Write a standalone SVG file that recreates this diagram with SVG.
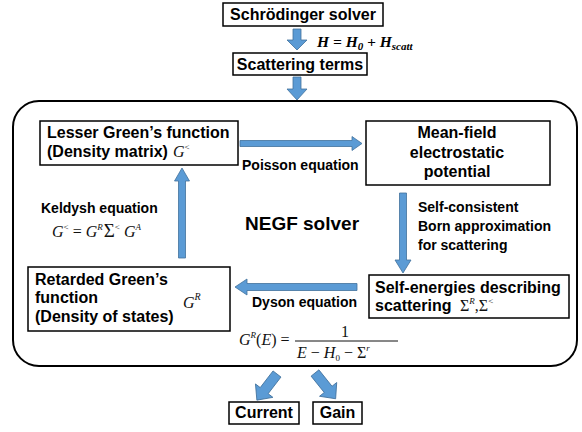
<svg xmlns="http://www.w3.org/2000/svg" width="582" height="432" viewBox="0 0 582 432">
<style>
.box{fill:#fff;stroke:#000;stroke-width:1.5}
.t{font-family:"Liberation Sans",Arial,sans-serif;font-weight:bold;font-size:16px;fill:#000}
.s{font-family:"Liberation Sans",Arial,sans-serif;font-weight:bold;font-size:14px;fill:#000}
.m{font-family:"Liberation Serif","Times New Roman",serif;font-style:italic;font-size:16px;fill:#111}
.up{font-style:normal}
.arr{fill:#5B9BD5;stroke:#41719C;stroke-width:0.8}
</style>
<defs>
<path id="diag" d="M0,-5 L21,-5 L21,-11 L33,0 L21,11 L21,5 L0,5 Z"/>
</defs>

<g id="outer">
<rect x="13" y="101" width="564" height="265" rx="26" ry="26" fill="none" stroke="#000" stroke-width="2"/>
</g>

<g id="schrodinger">
<rect class="box" x="223" y="3" width="160" height="23"/>
<text class="t" x="303" y="20" text-anchor="middle">Schrödinger solver</text>
</g>
<g id="hamiltonian">
<text x="317" y="47" font-family="'Liberation Serif','Times New Roman',serif" font-style="italic" font-weight="bold" font-size="15.5">H = H<tspan font-size="11" dy="3">0</tspan><tspan dy="-3"> + H</tspan><tspan font-size="11" dy="3">scatt</tspan></text>
</g>
<g id="scattering">
<rect class="box" x="233" y="53" width="134" height="22"/>
<text class="t" x="300" y="70" text-anchor="middle">Scattering terms</text>
</g>

<g id="lesser">
<rect class="box" x="40" y="121" width="198" height="44"/>
<text class="t" x="47" y="138">Lesser Green’s function</text>
<text class="t" x="47" y="157">(Density matrix)</text>
<text class="m" x="173" y="157">G<tspan font-size="9" dy="-7" class="up">&lt;</tspan></text>
</g>

<g id="meanfield">
<rect class="box" x="366" y="121" width="184" height="64"/>
<text class="t" x="457" y="138" text-anchor="middle">Mean-field</text>
<text class="t" x="457" y="158" text-anchor="middle">electrostatic</text>
<text class="t" x="457" y="177" text-anchor="middle">potential</text>
</g>

<g id="selfenergies">
<rect class="box" x="369" y="275" width="200" height="43"/>
<text class="t" x="375" y="293">Self-energies describing</text>
<text class="t" x="375" y="311">scattering</text>
<text class="m" x="460" y="311" fill="#333"><tspan class="up">Σ</tspan><tspan font-size="9" dy="-7">R</tspan><tspan class="up" dy="7">,Σ</tspan><tspan font-size="9" dy="-7" class="up">&lt;</tspan></text>
</g>

<g id="retarded">
<rect class="box" x="28" y="267" width="202" height="64"/>
<text class="t" x="35" y="285">Retarded Green’s</text>
<text class="t" x="35" y="303">function</text>
<text class="t" x="35" y="322">(Density of states)</text>
<text class="m" x="183" y="308" font-size="17">G<tspan font-size="10" dy="-8">R</tspan></text>
</g>

<g id="negf">
<text x="245" y="230" font-family="'Liberation Sans',Arial,sans-serif" font-weight="bold" font-size="19">NEGF solver</text>
</g>

<g id="current">
<rect class="box" x="229" y="402" width="70" height="22"/>
<text class="t" x="264" y="418" text-anchor="middle">Current</text>
</g>
<g id="gain">
<rect class="box" x="313" y="402" width="49" height="22"/>
<text class="t" x="337.5" y="418" text-anchor="middle">Gain</text>
</g>

<g id="connectors">
<path class="arr" d="M293,29 L301,29 L301,40 L307,40 L297,50 L287,40 L293,40 Z"/>
<path class="arr" d="M293,77 L301,77 L301,89 L307,89 L297,100 L287,89 L293,89 Z"/>
<path class="arr" d="M240,140.5 L352,140.5 L352,136.5 L362,143.5 L352,150.5 L352,146.5 L240,146.5 Z"/>
<path class="arr" d="M399.5,193 L406.5,193 L406.5,260 L411,260 L403,273 L395,260 L399.5,260 Z"/>
<path class="arr" d="M357,283.5 L357,290.5 L247,290.5 L247,295 L235,287 L247,279 L247,283.5 Z"/>
<path class="arr" d="M178.5,258 L185.5,258 L185.5,181 L189.5,181 L182,168 L174.5,181 L178.5,181 Z"/>
<use href="#diag" class="arr" transform="translate(277,374) rotate(127.6)"/>
<use href="#diag" class="arr" transform="translate(315,373) rotate(51.3)"/>
</g>

<g id="labels">
<text class="s" x="242" y="170">Poisson equation</text>
<text class="s" x="418" y="212">Self-consistent</text>
<text class="s" x="418" y="231">Born approximation</text>
<text class="s" x="418" y="250">for scattering</text>
<text class="s" x="357" y="307" text-anchor="end">Dyson equation</text>
<text class="s" x="41" y="213">Keldysh equation</text>
<text class="m" x="52" y="237">G<tspan font-size="9" dy="-7" class="up">&lt;</tspan><tspan class="up" dy="7"> = </tspan>G<tspan font-size="9" dy="-7">R</tspan><tspan class="up" dy="7" font-size="19" dx="1">Σ</tspan><tspan font-size="9" dy="-7" class="up">&lt;</tspan><tspan dy="7"> G</tspan><tspan font-size="9" dy="-7">A</tspan></text>
<text class="m" x="239" y="345">G<tspan font-size="9" dy="-7">R</tspan><tspan class="up" dy="7">(</tspan>E<tspan class="up">) =</tspan></text>
<text class="m up" x="345" y="337" text-anchor="middle">1</text>
<line x1="295" y1="341" x2="398" y2="341" stroke="#111" stroke-width="1"/>
<text class="m" x="297" y="358">E<tspan class="up"> − </tspan>H<tspan font-size="9" dy="3" class="up">0</tspan><tspan class="up" dy="-3"> − Σ</tspan><tspan font-size="9" dy="-7">r</tspan></text>
</g>
</svg>
